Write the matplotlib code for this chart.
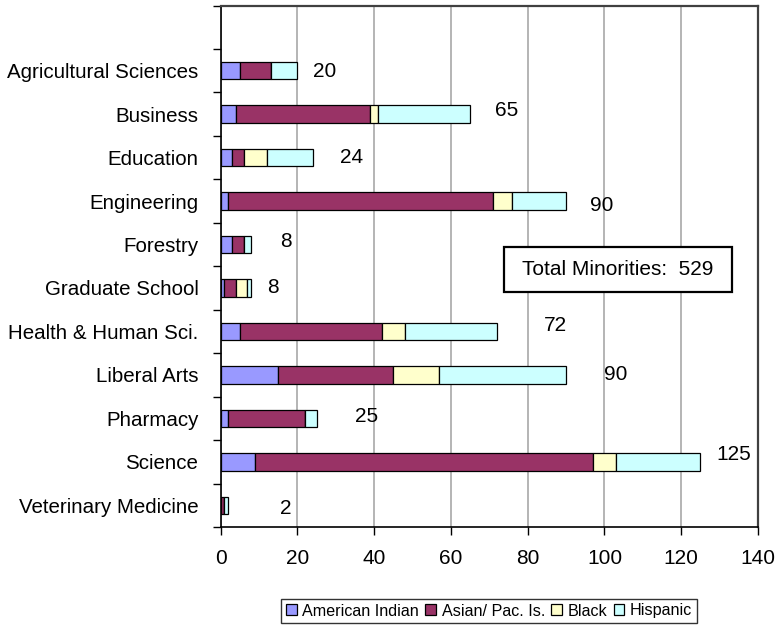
import matplotlib
matplotlib.use("Agg")
import matplotlib.pyplot as plt
import numpy as np
from matplotlib.patches import Rectangle

plt.rcParams['font.family'] = ['Liberation Sans', 'DejaVu Sans']

# colleges, top to bottom
colleges = ["Agricultural Sciences", "Business", "Education", "Engineering",
            "Forestry", "Graduate School", "Health & Human Sci.", "Liberal Arts",
            "Pharmacy", "Science", "Veterinary Medicine"]
groups = ["American Indian", "Asian/ Pac. Is.", "Black", "Hispanic"]
american_indian = [5, 4, 3, 2, 3, 1, 5, 15, 2, 9, 0]
asian_pac = [8, 35, 3, 69, 3, 3, 37, 30, 20, 88, 1]
black = [0, 2, 6, 5, 0, 3, 6, 12, 0, 6, 0]
hispanic = [7, 24, 12, 14, 2, 1, 24, 33, 3, 22, 1]
total_minorities = 529

colors = ["#9999FF", "#993366", "#FFFFCC", "#CCFFFF"]

# hand placed total labels (x in data units, small vertical nudge)
label_x = [27.1, 74.6, 34.0, 99.4, 16.9, 13.7, 87.3, 102.8, 37.9, 133.6, 16.9]
label_dy = [-0.03, 0.09, 0.0, -0.11, 0.07, 0.0, 0.14, 0.0, 0.05, 0.16, -0.07]

fig = plt.figure(figsize=(7.76, 6.28), dpi=100)
ax = fig.add_axes([220.6/776, 1-527/628, (758-220.6)/776, (527-5.5)/628])

n = len(colleges)
ypos = np.arange(n)[::-1]
series = [american_indian, asian_pac, black, hispanic]
left = np.zeros(n)
for vals, col, name in zip(series, colors, groups):
    vals = np.array(vals, dtype=float)
    ax.barh(ypos, vals, left=left, height=0.4, color=col, edgecolor='black',
            linewidth=0.9, label=name, zorder=3)
    left += vals

totals = left
for i in range(n):
    ax.text(label_x[i], ypos[i] + label_dy[i], "%d" % totals[i], fontsize=15,
            ha='center', va='center', zorder=4)

ax.set_xlim(0, 140)
ax.set_ylim(-0.5, n + 0.5)
ax.set_xticks(np.arange(0, 141, 20))
ax.set_yticks(ypos)
ax.set_yticklabels(colleges)
ax.set_yticks(np.arange(-0.5, n + 1, 1), minor=True)
ax.tick_params(axis='y', which='major', length=0, pad=16, labelsize=14.8)
ax.tick_params(axis='y', which='minor', length=6, width=1, direction='out')
ax.tick_params(axis='x', length=6, width=1, direction='out', labelsize=15, pad=10)
ax.xaxis.grid(True, color='#b4b4b4', linewidth=1.4, zorder=0)
ax.set_axisbelow(True)

for s in ['left', 'bottom']:
    ax.spines[s].set_color('black')
    ax.spines[s].set_linewidth(1.2)
for s in ['top', 'right']:
    ax.spines[s].set_color('#404040')
    ax.spines[s].set_linewidth(1.6)

# Total box
ax.add_patch(Rectangle((73.8, 4.91), 59.4, 1.03, facecolor='white',
                       edgecolor='black', linewidth=1.6, zorder=5))
ax.text(103.5, 5.43, "Total Minorities:  %d" % total_minorities, fontsize=15,
        ha='center', va='center', zorder=6)

leg = fig.legend(loc='center', bbox_to_anchor=(489/776, 1-611/628), ncol=4,
                 fontsize=11.6, frameon=True, fancybox=False, shadow=False,
                 handlelength=0.65, handleheight=0.65, handletextpad=0.35,
                 columnspacing=0.4, borderpad=0.3, borderaxespad=0)
leg.get_frame().set_edgecolor('black')
leg.get_frame().set_linewidth(1.0)

fig.savefig("out.png", dpi=100)
